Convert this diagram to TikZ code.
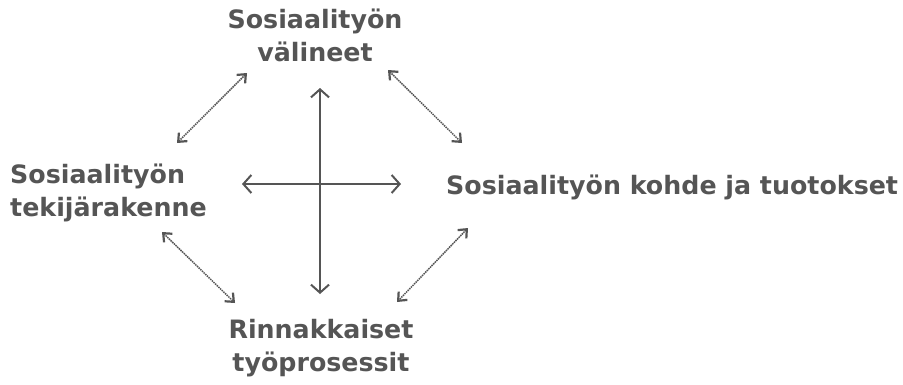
\documentclass[tikz,border=0pt]{standalone}
\usepackage{fontspec}
\setmainfont{DejaVu Sans}
\usetikzlibrary{arrows.meta}
\definecolor{ink}{HTML}{555555}
\begin{document}
\begin{tikzpicture}[x=1pt,y=-1pt,
  lbl/.style={text=ink,font=\bfseries\fontsize{25.3}{33}\selectfont,inner sep=0pt,anchor=base west},
  cross/.style={draw=ink,line width=2.2pt,{Straight Barb[length=8pt,width=18pt,line width=2pt]}-{Straight Barb[length=8pt,width=18pt,line width=2pt]}},
  diag/.style={draw=ink,line width=1.5pt,dash pattern=on 1.5pt off 0.8pt,{Straight Barb[length=7pt,width=12pt,line width=2.2pt]}-{Straight Barb[length=7pt,width=12pt,line width=2.2pt]}}]
\useasboundingbox (0,0) rectangle (903,384);
\node[lbl,align=center,anchor=base] (top) at (315,61) {Sosiaalityön\\välineet};
\node[lbl,align=left] (left) at (10,216) {Sosiaalityön\\tekijärakenne};
\node[lbl] (right) at (446,194) {Sosiaalityön kohde ja tuotokset};
\node[lbl,align=center,anchor=base] (bot) at (321,371) {Rinnakkaiset\\työprosessit};
\coordinate (vt) at (320,88);
\coordinate (vb) at (320,294);
\coordinate (hl) at (242,184);
\coordinate (hr) at (401,184);
\draw[cross] (vt) -- (vb);
\draw[cross] (hl) -- (hr);
\coordinate (tl1) at (247,73);
\coordinate (tl2) at (177,143);
\coordinate (tr1) at (388,70);
\coordinate (tr2) at (462,143);
\coordinate (bl1) at (162,232);
\coordinate (bl2) at (235,303);
\coordinate (br1) at (468,228);
\coordinate (br2) at (397,302);
\draw[diag] (tl1) -- (tl2);
\draw[diag] (tr1) -- (tr2);
\draw[diag] (bl1) -- (bl2);
\draw[diag] (br1) -- (br2);
\end{tikzpicture}
\end{document}
